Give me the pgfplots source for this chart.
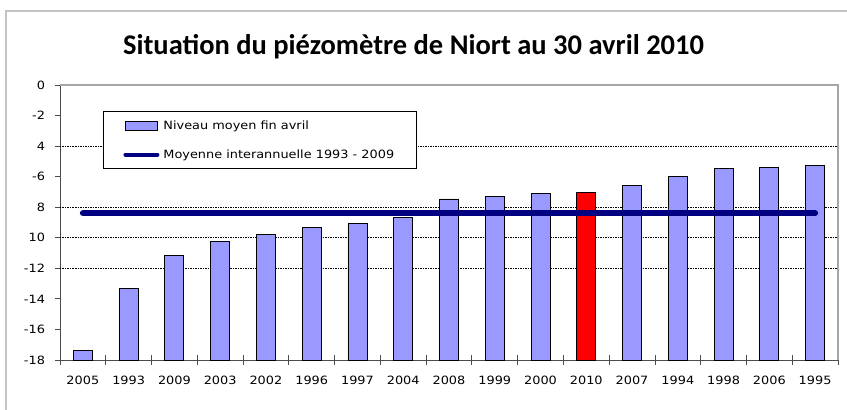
\documentclass[border=0pt]{standalone}
\usepackage{pgfplots}
\usepackage{pgfplotstable}
\pgfplotsset{compat=1.18}
\usepackage{fontspec}
\setmainfont{DejaVu Sans}
\newfontfamily\chartfont[FakeStretch=1.13]{DejaVu Sans}
\newfontfamily\titlefont{Carlito}
\definecolor{barblue}{HTML}{9999FF}
\definecolor{barred}{HTML}{FF0000}
\definecolor{navyline}{HTML}{000080}
\definecolor{framegray}{HTML}{C4C4C4}

% depth (m) at end of April, sorted; cat = position on the x axis
\pgfplotstableread{
cat year v
0 2005 -17.40
1 1993 -13.30
2 2009 -11.15
3 2003 -10.22
4 2002 -9.77
5 1996 -9.30
6 1997 -9.07
7 2004 -8.70
8 2008 -7.46
9 1999 -7.31
10 2000 -7.11
12 2007 -6.59
13 1994 -5.98
14 1998 -5.48
15 2006 -5.41
16 1995 -5.28
}\blue
\pgfplotstableread{
cat year v
11 2010 -7.05
}\red
\pgfplotstableread{
cat v
0 -8.39
16 -8.39
}\mean

\begin{document}
\begin{tikzpicture}
\useasboundingbox (0pt,0pt) rectangle (847pt,410pt);
\draw[framegray, line width=2pt] (6pt,0pt) -- (6pt,399pt) -- (847pt,399pt);
\node[anchor=base, font=\titlefont\bfseries\fontsize{28.5}{32}\selectfont] at (413.5pt,355pt) {Situation du piézomètre de Niort au 30 avril 2010};
\begin{axis}[
  at={(60pt,50pt)}, anchor=south west,
  width=778pt, height=275pt, scale only axis,
  xmin=-0.5, xmax=16.5, ymin=0, ymax=18,
  axis lines*=left,
  axis line style={draw=gray!60!black, line width=0.9pt},
  tick align=center,
  xtick={0,...,16},
  xticklabels={2005,1993,2009,2003,2002,1996,1997,2004,2008,1999,2000,2010,2007,1994,1998,2006,1995},
  major x tick style={draw=none},
  minor xtick={-0.5,0.5,...,16.5},
  minor tick length=10pt,
  minor x tick style={draw=gray!60!black, line width=0.8pt},
  ytick={0,2,...,18},
  yticklabels={-18,-16,-14,-12,10,8,-6,4,-2,0},
  major tick length=5pt,
  y tick style={draw=gray!60!black, line width=0.8pt, xshift=-2.5pt},
  extra y ticks={6,8,10,14},
  extra y tick labels={},
  extra y tick style={grid=major, major tick length=0pt},
  grid style={black, line width=0.6pt, dash pattern=on 1.5pt off 1pt},
  tick label style={font=\chartfont\fontsize{11.4}{13}\selectfont, text=black},
  xticklabel style={yshift=-10pt},
  yticklabel style={xshift=-9pt},
  legend style={at={(0.0553,0.9055)}, anchor=north west, draw=black, line width=0.8pt,
    font=\chartfont\fontsize{11.4}{13}\selectfont, inner xsep=20pt, inner ysep=7pt,
    row sep=15pt, /tikz/every odd column/.style={column sep=2pt}},
  legend cell align=left,
  clip=false,
]
\addplot[ybar, bar width=19pt, bar shift=0pt, fill=barblue, draw=black, line width=0.9pt,
  legend image code/.code={\draw[fill=barblue, draw=black, line width=0.9pt] (0pt,-4.5pt) rectangle (32pt,4.5pt);}]
  table[x=cat, y expr=\thisrow{v}+18] {\blue};
\addlegendentry{Niveau moyen fin avril}
\addplot[ybar, bar width=19pt, bar shift=0pt, fill=barred, draw=black, line width=0.9pt, forget plot]
  table[x=cat, y expr=\thisrow{v}+18] {\red};
\addplot[navyline, line width=6pt, line cap=round, mark=none,
  legend image code/.code={\draw[navyline, line width=4pt] (0pt,0pt) -- (32pt,0pt);}]
  table[x=cat, y expr=\thisrow{v}+18] {\mean};
\addlegendentry{Moyenne interannuelle 1993 - 2009}
\draw[gray!70, line width=1.2pt] (rel axis cs:0,1) -- (rel axis cs:1,1) -- (rel axis cs:1,0);
\end{axis}
\end{tikzpicture}
\end{document}
